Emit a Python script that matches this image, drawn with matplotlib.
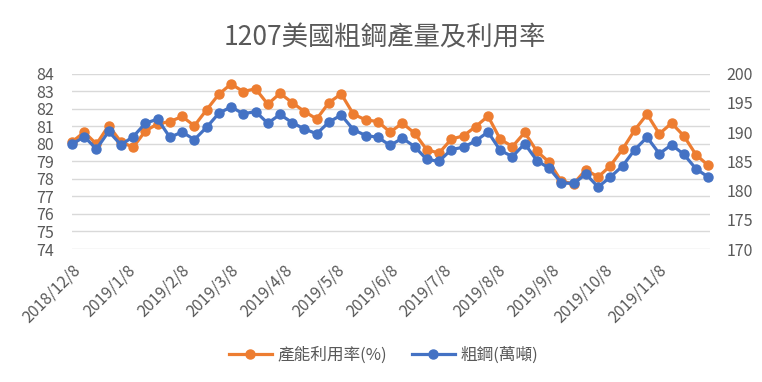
import datetime as dt
import matplotlib
matplotlib.use('Agg')
import matplotlib.pyplot as plt
from matplotlib.transforms import ScaledTranslation

plt.rcParams['font.family'] = ['Noto Sans CJK TC', 'DejaVu Sans']

# weekly data, 2018/12/8 .. 2019/12/7
start = dt.date(2018, 12, 8)
n_weeks = 53
fechas = [start + dt.timedelta(days=7 * i) for i in range(n_weeks)]

utilizacion = [80.1, 80.66, 79.98, 81.03, 80.1, 79.8, 80.73, 81.13, 81.26, 81.55,
               81.02, 81.93, 82.82, 83.4, 82.97, 83.13, 82.25, 82.87, 82.34, 81.83,
               81.41, 82.34, 82.84, 81.68, 81.36, 81.26, 80.66, 81.17, 80.6, 79.65,
               79.47, 80.26, 80.45, 80.98, 81.57, 80.25, 79.84, 80.64, 79.56, 78.95,
               77.85, 77.72, 78.52, 78.1, 78.74, 79.69, 80.79, 81.68, 80.56, 81.17,
               80.45, 79.37, 78.76]

acero = [187.9, 189.2, 187.1, 190.1, 187.8, 189.2, 191.5, 192.2, 189.1, 190.0,
         188.7, 190.8, 193.2, 194.3, 193.1, 193.5, 191.5, 193.0, 191.6, 190.5,
         189.7, 191.7, 192.9, 190.4, 189.4, 189.1, 187.7, 188.95, 187.5, 185.3,
         185.0, 187.0, 187.4, 188.5, 190.0, 186.85, 185.8, 188.0, 185.1, 183.8,
         181.3, 181.2, 182.8, 180.6, 182.3, 184.2, 187.0, 189.1, 186.3, 187.8,
         186.2, 183.7, 182.3]

tick_fechas = [dt.date(2018, 12, 8)] + [dt.date(2019, m, 8) for m in range(1, 12)]
tick_labels = ['2018/12/8'] + ['2019/%d/8' % m for m in range(1, 12)]

naranja = '#ED7D31'
azul = '#4472C4'
gris = '#595959'

fig = plt.figure(figsize=(7.62, 3.82), dpi=100)
ax = fig.add_axes([72 / 762, 1 - 249 / 382, (710 - 72) / 762, (249 - 73.5) / 382])
ax2 = ax.twinx()

l1, = ax.plot(fechas, utilizacion, '-o', color=naranja, lw=2.3, ms=6.5,
              label='產能利用率(%)', clip_on=False)
l2, = ax2.plot(fechas, acero, '-o', color=azul, lw=2.3, ms=6.5,
               label='粗鋼(萬噸)', clip_on=False)

ax.set_ylim(74, 84)
ax.set_yticks(range(74, 85))
ax2.set_ylim(170, 200)
ax2.set_yticks(range(170, 201, 5))
ax.set_xlim(start - dt.timedelta(days=0.4), fechas[-1] + dt.timedelta(days=1.5))
ax.set_xticks(tick_fechas)
ax.set_xticklabels(tick_labels, rotation=45, ha='right', rotation_mode='anchor')
# excel puts the label end a bit right of the date
desplaza = ScaledTranslation(5 / 100, 0, fig.dpi_scale_trans)
for t in ax.get_xticklabels():
    t.set_transform(t.get_transform() + desplaza)

ax.grid(axis='y', color='#D9D9D9', lw=1)
ax.set_axisbelow(True)
for a in (ax, ax2):
    for s in a.spines.values():
        s.set_visible(False)
    a.tick_params(length=0, labelsize=11.5, colors=gris)
ax.tick_params(axis='y', pad=13)
ax2.tick_params(axis='y', pad=12)
ax.tick_params(axis='x', pad=9)

fig.text(0.505, 0.90, '1207美國粗鋼產量及利用率', ha='center', va='center',
         fontsize=19, color=gris)

fig.legend(handles=[l1, l2], loc='center', bbox_to_anchor=(0.503, 0.071), ncol=2,
           frameon=False, fontsize=12, handlelength=2.6, columnspacing=1.5,
           handletextpad=0.3, labelcolor=gris)

fig.savefig('out.png', dpi=100)
